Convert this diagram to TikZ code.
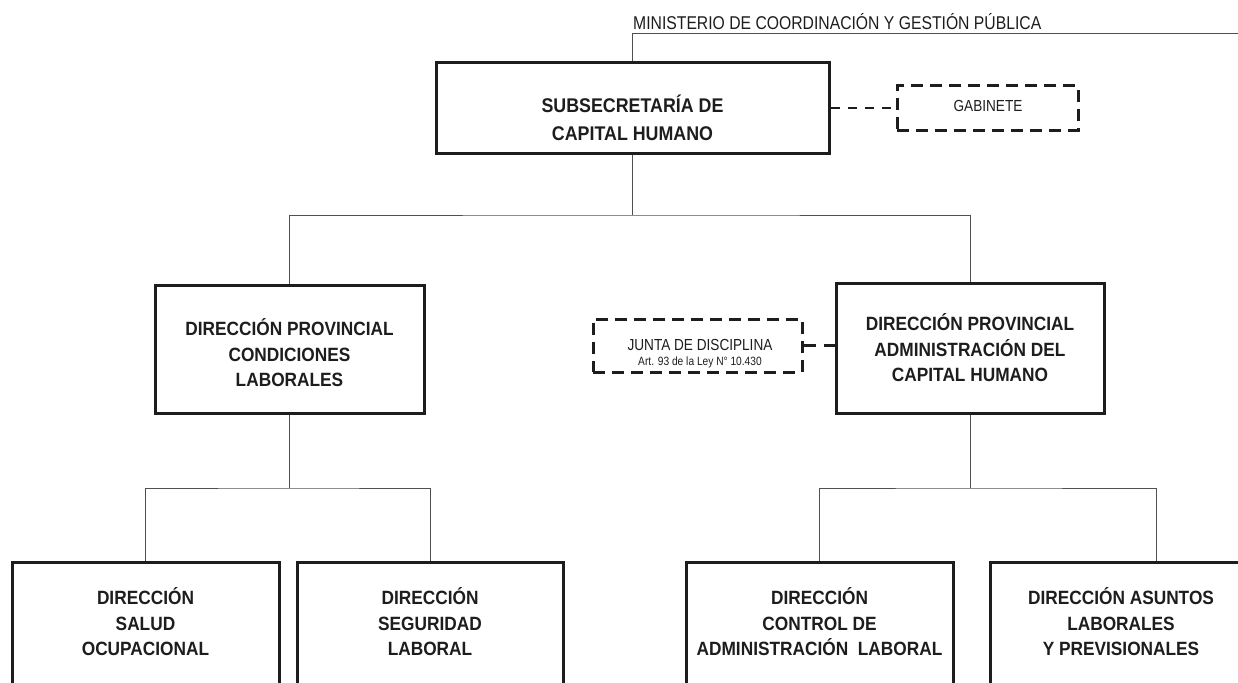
\documentclass[tikz,border=0pt]{standalone}
\usepackage{fontspec}
\setmainfont{Liberation Sans}
\newfontfamily\narrowfont[FakeStretch=0.85]{Liberation Sans}
\newfontfamily\headfont[FakeStretch=0.9]{Liberation Sans Bold}
\definecolor{ink}{HTML}{1E1C1C}
\definecolor{wire}{HTML}{505050}
\begin{document}
\begin{tikzpicture}[x=1pt,y=-1pt,
  box/.style={draw=ink, line width=3pt, rectangle, inner sep=0pt},
  dbox/.style={draw=ink, line width=3pt, dash pattern=on 12pt off 7pt, rectangle, inner sep=0pt},
  link/.style={draw=wire, line width=1pt},
  dlink/.style={draw=ink, line width=2.5pt, dash pattern=on 9pt off 8pt},
  headtext/.style={font=\headfont\fontsize{19.2}{25.5}\selectfont, text=ink, align=center, inner sep=0pt},
  plaintext/.style={font=\narrowfont\fontsize{16}{18}\selectfont, text=ink, inner sep=0pt},
]
\useasboundingbox (0,0) rectangle (1238,682);
\clip (0,0) rectangle (1238,682);

% ministry line
\node[plaintext, font=\narrowfont\fontsize{18.5}{20}\selectfont, anchor=base west] (min) at (633,30)
  {MINISTERIO DE COORDINACIÓN Y GESTIÓN PÚBLICA};
\coordinate (minR) at (1240,34);

% subsecretaría
\node[box, minimum width=393, minimum height=90] (sub) at (632.5,108) {};
\node[headtext, font=\headfont\fontsize{19.8}{27.5}\selectfont] (subt) at (632.5,118) {SUBSECRETARÍA DE\\CAPITAL HUMANO};
\node[dbox, minimum width=181, minimum height=44] (gab) at (987.5,108) {};
\node[plaintext] (gabt) at (988,106) {GABINETE};

% provincial directorates
\node[box, minimum width=269, minimum height=128] (dpl) at (289.5,349) {};
\node[headtext] (dplt) at (289.5,353) {DIRECCIÓN PROVINCIAL\\CONDICIONES\\LABORALES};
\node[box, minimum width=268, minimum height=130] (dpr) at (970,348) {};
\node[headtext] (dprt) at (970,348) {DIRECCIÓN PROVINCIAL\\ADMINISTRACIÓN DEL\\CAPITAL HUMANO};
\node[dbox, minimum width=209, minimum height=53] (jun) at (697.5,345.5) {};
\node[plaintext, align=center] (junt) at (700,354)
  {JUNTA DE DISCIPLINA\\[-3pt]{\fontsize{12}{13}\selectfont Art. 93 de la Ley N° 10.430}};

% bottom directorates
\node[box, minimum width=267, minimum height=170, anchor=north] (b1) at (145.5,561) {};
\node[box, minimum width=266, minimum height=170, anchor=north] (b2) at (430,561) {};
\node[box, minimum width=267, minimum height=170, anchor=north] (b3) at (819.5,561) {};
\node[box, minimum width=266, minimum height=170, anchor=north] (b4) at (1123,561) {};
\node[headtext] (b1t) at (145.5,622) {DIRECCIÓN\\SALUD\\OCUPACIONAL};
\node[headtext] (b2t) at (430,622) {DIRECCIÓN\\SEGURIDAD\\LABORAL};
\node[headtext] (b3t) at (819.5,622) {DIRECCIÓN\\CONTROL DE\\ADMINISTRACIÓN\ \ LABORAL};
\node[headtext] (b4t) at (1121,622) {DIRECCIÓN ASUNTOS\\LABORALES\\Y PREVISIONALES};

% connectors
\coordinate (bus1) at (632.5,215);
\coordinate (bus2) at (289.5,488);
\coordinate (bus3) at (970,488);
\coordinate (b4in) at (1156,561);

\draw[link] (sub.north) |- (minR);
\draw[link] (sub.south) -- (bus1);
\draw[link] (dpl.north) |- (bus1) -| (dpr.north);
\draw[link] (dpl.south) -- (bus2);
\draw[link] (b1.north) |- (bus2) -| (b2.north);
\draw[link] (dpr.south) -- (bus3);
\draw[link] (b3.north) |- (bus3) -| (b4in);

\draw[dlink] (sub.east) -- (gab.west);
\draw[dlink, dash pattern=on 12pt off 8pt] (jun.east) -- (dpr.west |- jun.east);
\end{tikzpicture}
\end{document}
